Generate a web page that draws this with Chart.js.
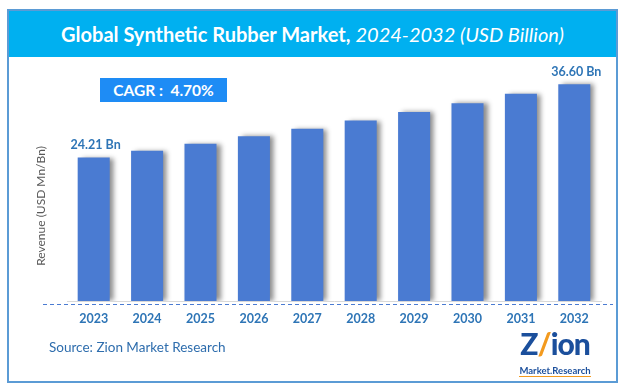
<!DOCTYPE html>
<html>
<head>
<meta charset="utf-8">
<script src="https://cdn.jsdelivr.net/npm/chart.js@4.4.1/dist/chart.umd.min.js"></script>
<style>
  html, body { margin: 0; padding: 0; background: #ffffff; }
  #wrap { position: relative; width: 626px; height: 392px; overflow: hidden; background: #fff; }
  #c { position: absolute; left: 0; top: 0; }
  #frame { position: absolute; left: 7px; top: 9px; width: 607px; height: 370px; border: 2px solid #5B9BD5; pointer-events: none; }
  #title { position: absolute; left: 8px; top: 9px; width: 609px; height: 48px; background: #00B0F0; color: #fff;
           font-family: Lato, "Open Sans", sans-serif; font-size: 20px; line-height: 50px; text-align: center; white-space: nowrap; }
  #title b { font-weight: 700; }
  #title i { font-weight: 400; font-style: italic; }
  #cagr { position: absolute; left: 100px; top: 78px; width: 127px; height: 24px; background: #1E8CF5; color: #fff;
          font-family: Lato, "Open Sans", sans-serif; font-weight: 700; font-size: 15.5px; line-height: 24px; text-align: center; white-space: pre; }
  #source { position: absolute; left: 49px; top: 339px; color: #2E6DAD; font-family: Lato, "Open Sans", sans-serif; font-size: 13.5px; white-space: nowrap; }
  #logo { position: absolute; left: 515px; top: 328px; width: 80px; text-align: center; font-family: Lato, "Open Sans", sans-serif; }
  #logo .z { font-size: 30px; font-weight: 900; color: #1B4F9C; line-height: 30px; letter-spacing: -1px; }
  #logo .z span { color: #F39A1E; }
  #logo .m { font-size: 9.5px; font-weight: 700; color: #1B4F9C; line-height: 10px; border-bottom: 1.5px solid #F39A1E; display: inline-block; }
</style>
</head>
<body>
<div id="wrap">
  <canvas id="c" width="626" height="392"></canvas>
  <div id="title"><b>Global Synthetic Rubber Market,</b> <i>2024-2032 (USD Billion)</i></div>
  <div id="cagr">CAGR :  4.70%</div>
  <div id="source">Source: Zion Market Research</div>
  <div id="logo"><div class="z">Z<span>/</span>ion</div><div class="m">Market.Research</div></div>
  <div id="frame"></div>
</div>
<script>
const years = ["2023","2024","2025","2026","2027","2028","2029","2030","2031","2032"];
const revenue = [24.21, 25.35, 26.54, 27.79, 29.09, 30.46, 31.89, 33.39, 34.96, 36.60];
const labelledIdx = [0, 9];
const labelText = ["24.21 Bn", "36.60 Bn"];
const yTitle = "Revenue (USD Mn/Bn)";

const shadowPlugin = {
  id: 'barShadow',
  beforeDatasetsDraw(chart) {
    const ctx = chart.ctx;
    ctx.save();
    ctx.shadowColor = 'rgba(0,0,0,0.45)';
    ctx.shadowOffsetX = 4;
    ctx.shadowOffsetY = 0;
    ctx.shadowBlur = 5;
  },
  afterDatasetsDraw(chart) {
    const ctx = chart.ctx;
    ctx.restore();
    const meta = chart.getDatasetMeta(0);
    ctx.save();
    ctx.font = 'bold 12.5px Lato, "Open Sans", sans-serif';
    ctx.fillStyle = '#2E75B6';
    ctx.textAlign = 'center';
    ctx.textBaseline = 'bottom';
    labelledIdx.forEach((idx, k) => {
      const el = meta.data[idx];
      ctx.fillText(labelText[k], el.x + 2, el.y - 6);
    });
    ctx.restore();
  },
  afterDraw(chart) {
    const ctx = chart.ctx;
    const y = chart.chartArea.bottom + 3.5;
    ctx.save();
    ctx.strokeStyle = '#4A7BD2';
    ctx.lineWidth = 1;
    ctx.setLineDash([4, 3]);
    ctx.beginPath();
    ctx.moveTo(43, y);
    ctx.lineTo(613, y);
    ctx.stroke();
    ctx.restore();
    // y-axis title
    ctx.save();
    ctx.translate(41, 206);
    ctx.rotate(-Math.PI / 2);
    ctx.font = '12px Lato, "Open Sans", sans-serif';
    ctx.fillStyle = '#595959';
    ctx.textAlign = 'center';
    ctx.textBaseline = 'middle';
    ctx.fillText(yTitle, 0, 0);
    ctx.restore();
  }
};

new Chart(document.getElementById('c'), {
  type: 'bar',
  data: {
    labels: years,
    datasets: [{
      data: revenue,
      backgroundColor: '#4A7BD2',
      borderWidth: 0,
      categoryPercentage: 0.6,
      barPercentage: 1.0
    }]
  },
  options: {
    responsive: false,
    animation: false,
    devicePixelRatio: 1,
    layout: { padding: { left: 34, right: 25, top: 64, bottom: 0 } },
    plugins: { legend: { display: false }, tooltip: { enabled: false }, title: { display: false } },
    scales: {
      x: {
        grid: { display: false, drawTicks: false },
        border: { display: true, color: '#D9D9D9', width: 1 },
        ticks: { color: '#2E75B6', font: { family: 'Lato, "Open Sans", sans-serif', size: 12.5, weight: 'bold' }, padding: 10 },
        afterFit(s) { s.height = 91; }
      },
      y: {
        min: 0, max: 40,
        grid: { display: false, drawTicks: false },
        border: { display: false },
        ticks: { display: false },
        title: { display: false },
        afterFit(s) { s.width = 33; }
      }
    }
  },
  plugins: [shadowPlugin]
});
</script>
</body>
</html>
